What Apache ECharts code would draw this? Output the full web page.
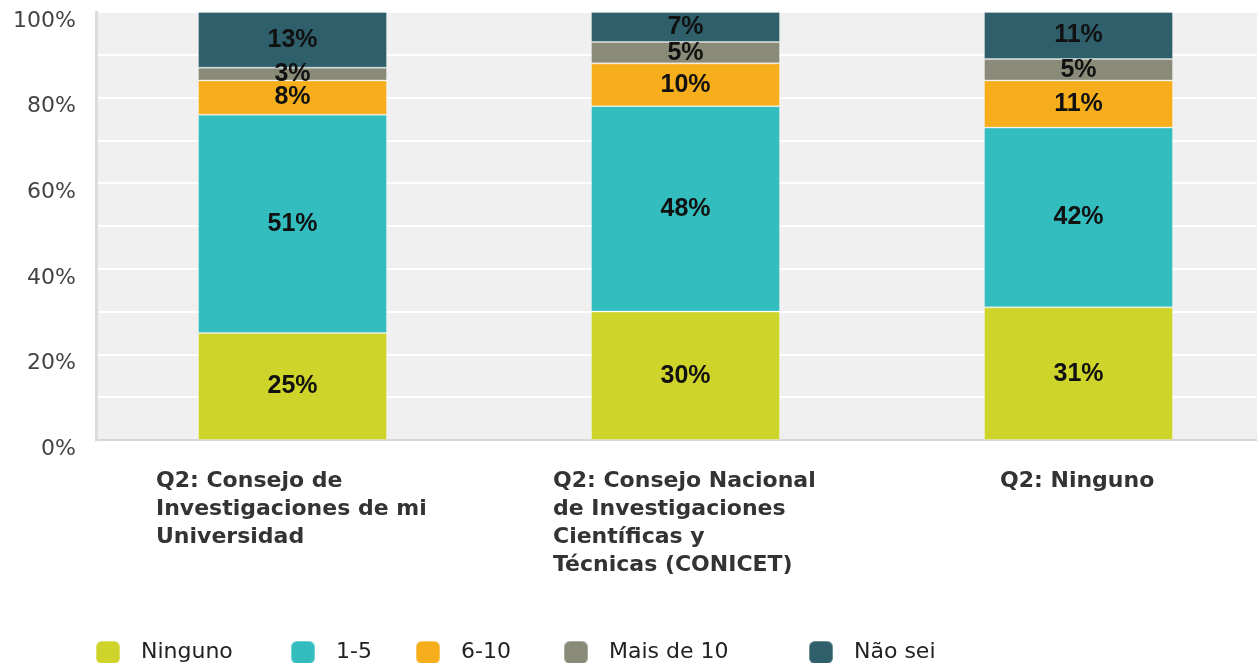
<!DOCTYPE html>
<html>
<head>
<meta charset="utf-8">
<script src="https://cdn.jsdelivr.net/npm/echarts@6/dist/echarts.min.js"></script>
<style>
  html, body { margin: 0; padding: 0; background: #fff; overflow: hidden; }
  #chart { width: 1275px; height: 663px; }
</style>
</head>
<body>
<div id="chart"></div>
<script>
var categories = [
    'Q2: Consejo de\nInvestigaciones de mi\nUniversidad',
    'Q2: Consejo Nacional\nde Investigaciones\nCientíficas y\nTécnicas (CONICET)',
    'Q2: Ninguno'
];
var seriesNames = ['Ninguno', '1-5', '6-10', 'Mais de 10', 'Não sei'];
var ninguno = [25, 30, 31];
var uno_cinco = [51, 48, 42];
var seis_diez = [8, 10, 11];
var mais_diez = [3, 5, 5];
var nao_sei = [13, 7, 11];
var colors = ['#cfd42a', '#33bdbe', '#f6ae1d', '#8a8a78', '#2e5f6b'];

var catFont = 'bold 22px "DejaVu Sans"';

// each label block is centred under its bar, lines are left aligned inside it
var ctx = document.createElement('canvas').getContext('2d');
ctx.font = catFont;
var rich = {};
categories.forEach(function (c, i) {
    var w = 0;
    c.split('\n').forEach(function (l) {
        w = Math.max(w, ctx.measureText(l).width);
    });
    rich['c' + i] = {
        width: Math.ceil(w) + 2,
        align: 'left',
        fontFamily: 'DejaVu Sans',
        fontWeight: 'bold',
        fontSize: 22,
        lineHeight: 28,
        color: '#333'
    };
});

var allData = [ninguno, uno_cinco, seis_diez, mais_diez, nao_sei];

var series = seriesNames.map(function (name, k) {
    return {
        name: name,
        type: 'bar',
        stack: 'total',
        barWidth: 189,
        data: allData[k],
        itemStyle: {
            color: colors[k],
            borderColor: 'rgba(255,255,255,0.3)',
            borderWidth: 1
        },
        label: {
            show: true,
            position: 'inside',
            formatter: '{c}%',
            color: '#111',
            fontFamily: 'Liberation Sans',
            fontWeight: 'bold',
            fontSize: 25
        }
    };
});

// legend items sit at fixed columns in the original
var legendLeft = [95, 290, 415, 563, 808];
var legends = seriesNames.map(function (name, k) {
    return {
        data: [name],
        left: legendLeft[k],
        top: 640,
        padding: 0,
        icon: 'roundRect',
        itemWidth: 24,
        itemHeight: 23,
        textStyle: {
            fontFamily: 'DejaVu Sans',
            fontSize: 22,
            color: '#222',
            padding: [0, 0, 0, 16]
        }
    };
});

var option = {
    animation: false,
    color: colors,
    grid: {
        left: 96,
        top: 12,
        width: 1179,
        height: 428,
        show: true,
        backgroundColor: '#f0f0f0',
        borderWidth: 0
    },
    legend: legends,
    xAxis: {
        type: 'category',
        data: categories,
        axisLine: { show: true, lineStyle: { color: '#d6d6d6', width: 2 } },
        axisTick: { show: false },
        axisLabel: {
            interval: 0,
            margin: 27,
            verticalAlign: 'top',
            formatter: function (v, i) {
                return v.split('\n').map(function (l) {
                    return '{c' + i + '|' + l + '}';
                }).join('\n');
            },
            rich: rich
        }
    },
    yAxis: {
        type: 'value',
        min: 0,
        max: 100,
        interval: 10,
        axisLine: { show: true, lineStyle: { color: '#dcdcdc', width: 3 } },
        axisTick: { show: false },
        splitLine: { show: true, lineStyle: { color: '#ffffff', width: 2 } },
        axisLabel: {
            margin: 20,
            verticalAlign: 'top',
            lineHeight: 18,
            fontFamily: 'DejaVu Sans',
            fontSize: 22,
            color: '#444',
            formatter: function (v) {
                return v % 20 === 0 ? v + '%' : '';
            }
        }
    },
    series: series
};

var myChart = echarts.init(document.getElementById('chart'));
myChart.setOption(option);
</script>
</body>
</html>
